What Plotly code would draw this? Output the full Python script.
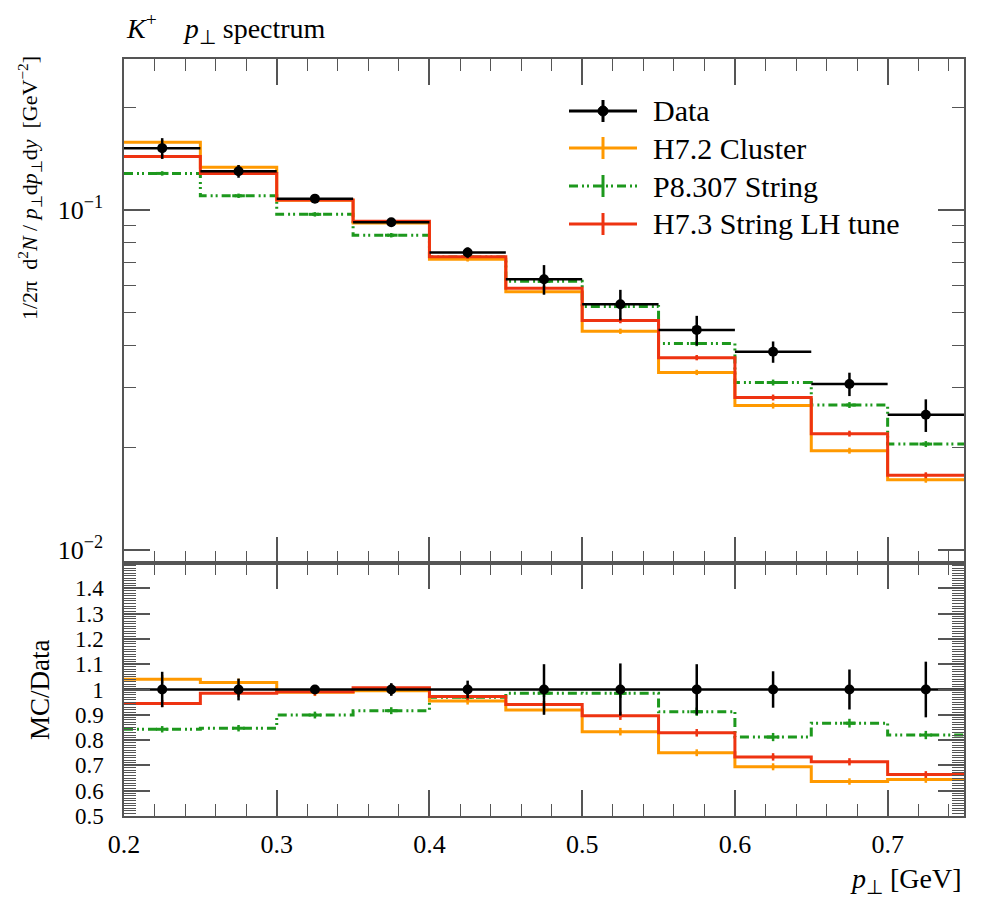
import plotly.graph_objects as go

# binning (p_perp in GeV)
bin_edges = [0.20, 0.25, 0.30, 0.35, 0.40, 0.45, 0.50, 0.55, 0.60, 0.65, 0.70, 0.75]

# measured spectrum and relative uncertainty
data_val = [0.152, 0.130, 0.108, 0.092, 0.075, 0.0626, 0.0528, 0.0444, 0.0383, 0.0308, 0.0250]
data_relerr = [0.070, 0.043, 0.010, 0.025, 0.035, 0.100, 0.103, 0.100, 0.072, 0.079, 0.110]

# MC predictions
h72_cluster = [0.1582, 0.1336, 0.1068, 0.0915, 0.0716, 0.0575, 0.0440, 0.0333, 0.0266, 0.0196, 0.0161]
p8307_string = [0.1281, 0.1101, 0.0971, 0.0843, 0.0727, 0.0617, 0.0520, 0.0405, 0.0311, 0.0267, 0.0205]
h73_lh_tune = [0.1436, 0.1281, 0.1070, 0.0926, 0.0729, 0.0589, 0.0473, 0.0368, 0.0281, 0.0220, 0.0166]
mc_relerr = [0.015, 0.015, 0.015, 0.015, 0.015, 0.015, 0.018, 0.018, 0.02, 0.02, 0.02]

ratio_ticks = [0.5, 0.6, 0.7, 0.8, 0.9, 1.0, 1.1, 1.2, 1.3, 1.4]
ratio_labels = ["0.5", "0.6", "0.7", "0.8", "0.9", "1", "1.1", "1.2", "1.3", "1.4"]

FONT = "Liberation Serif"
BLACK = "#000000"
ORANGE = "#ff9900"
GREEN = "#1d981d"
RED = "#ee3311"
FRAME = "#555555"
GREEN_DASH = "9px,4px,2px,3px,2px,4px"

centers = [(a + b) / 2 for a, b in zip(bin_edges[:-1], bin_edges[1:])]
halfw = [(b - a) / 2 for a, b in zip(bin_edges[:-1], bin_edges[1:])]


# page pixel -> paper coords (plot area sits at x 124..964, y 59..816 on the page)
def px(x):
    return (x - 124) / 840


def py(y):
    return (816 - y) / 757


fig = go.Figure()

series = [
    ("P8.307 String", p8307_string, GREEN, GREEN_DASH),
    ("H7.2 Cluster", h72_cluster, ORANGE, "solid"),
    ("H7.3 String LH tune", h73_lh_tune, RED, "solid"),
]

for name, vals, color, dash in series:
    ratio = [v / d for v, d in zip(vals, data_val)]
    for yvals, xa, ya in [(vals, "x", "y"), (ratio, "x2", "y2")]:
        fig.add_trace(go.Scatter(
            x=bin_edges, y=yvals + [yvals[-1]], mode="lines", line_shape="hv",
            line=dict(color=color, width=3, dash=dash), xaxis=xa, yaxis=ya,
            showlegend=False, hoverinfo="skip"))
        fig.add_trace(go.Scatter(
            x=centers, y=yvals, mode="markers",
            marker=dict(size=9 if color == GREEN else 2, color=color, symbol="line-ew",
                        line=dict(color=color, width=3)),
            error_y=dict(type="data", array=[v * e for v, e in zip(yvals, mc_relerr)],
                         width=0, thickness=2.5, color=color),
            xaxis=xa, yaxis=ya, showlegend=False, hoverinfo="skip"))

# data: main panel
fig.add_trace(go.Scatter(
    x=centers, y=data_val, mode="markers",
    marker=dict(size=10, color=BLACK),
    error_x=dict(type="data", array=halfw, width=0, thickness=2.5, color=BLACK),
    error_y=dict(type="data", array=[v * e for v, e in zip(data_val, data_relerr)],
                 width=0, thickness=2.5, color=BLACK),
    xaxis="x", yaxis="y", showlegend=False))

# data: ratio panel
ones = [d / d for d in data_val]
fig.add_trace(go.Scatter(
    x=bin_edges, y=ones + [ones[-1]], mode="lines", line_shape="hv",
    line=dict(color=BLACK, width=2.5), xaxis="x2", yaxis="y2", showlegend=False))
fig.add_trace(go.Scatter(
    x=centers, y=ones, mode="markers", marker=dict(size=10, color=BLACK),
    error_y=dict(type="data", array=data_relerr, width=0, thickness=2.5, color=BLACK),
    xaxis="x2", yaxis="y2", showlegend=False))

# hand-made legend (Rivet style)
legend_rows = [
    ("Data", BLACK, "solid", 111),
    ("H7.2 Cluster", ORANGE, "solid", 148),
    ("P8.307 String", GREEN, GREEN_DASH, 186),
    ("H7.3 String LH tune", RED, "solid", 224),
]
shapes = []
annotations = []
for label, color, dash, yy in legend_rows:
    shapes.append(dict(type="line", xref="paper", yref="paper", x0=px(569), x1=px(637),
                       y0=py(yy), y1=py(yy), line=dict(color=color, width=3, dash=dash)))
    shapes.append(dict(type="line", xref="paper", yref="paper", x0=px(603), x1=px(603),
                       y0=py(yy - 11), y1=py(yy + 11), line=dict(color=color, width=3)))
    if label == "Data":
        shapes.append(dict(type="circle", xref="paper", yref="paper",
                           x0=px(598), x1=px(608), y0=py(yy - 5), y1=py(yy + 5),
                           fillcolor=BLACK, line=dict(color=BLACK, width=1)))
    annotations.append(dict(text=label, xref="paper", yref="paper", x=px(651), y=py(yy),
                            xanchor="left", yanchor="middle", showarrow=False,
                            font=dict(family=FONT, size=30, color=BLACK)))

annotations += [
    dict(text="<i>K</i><sup>+</sup>    <i>p</i><sub>⊥</sub> spectrum", xref="paper", yref="paper",
         x=0, y=py(28), xanchor="left", yanchor="middle", showarrow=False,
         font=dict(family=FONT, size=28, color=BLACK)),
    dict(text="1/2π  d<sup>2</sup><i>N</i> / <i>p</i><sub>⊥</sub>d<i>p</i><sub>⊥</sub>d<i>y</i>  [GeV<sup>−2</sup>]",
         xref="paper", yref="paper", x=px(30), y=py(188), textangle=-90,
         xanchor="center", yanchor="middle", showarrow=False,
         font=dict(family=FONT, size=22, color=BLACK)),
    dict(text="MC/Data", xref="paper", yref="paper", x=px(40), y=py(690), textangle=-90,
         xanchor="center", yanchor="middle", showarrow=False,
         font=dict(family=FONT, size=27, color=BLACK)),
    dict(text="<i>p</i><sub>⊥</sub> [GeV]", xref="paper", yref="paper", x=1, y=py(880),
         xanchor="right", yanchor="middle", showarrow=False,
         font=dict(family=FONT, size=28, color=BLACK)),
]

split = py(563)
common_x = dict(range=[0.2, 0.75], tick0=0.2, dtick=0.1, ticks="inside", ticklen=26,
                tickwidth=1.5, tickcolor=FRAME, showline=True, linecolor=FRAME, linewidth=1.5,
                mirror="allticks", showgrid=False, zeroline=False,
                minor=dict(dtick=0.02, tick0=0.2, ticks="inside", ticklen=12, tickwidth=1.2,
                           tickcolor=FRAME, showgrid=False))

# the page body adds an 8px offset, so the figure is 8px smaller and margins shifted
fig.update_layout(
    width=988, height=892,
    margin=dict(l=116, r=32, t=51, b=84, autoexpand=False),
    paper_bgcolor="white", plot_bgcolor="white",
    font=dict(family=FONT, size=26, color=BLACK),
    showlegend=False,
    xaxis=dict(common_x, anchor="y", showticklabels=False),
    xaxis2=dict(common_x, anchor="y2", matches="x", showticklabels=True,
                ticklabelstandoff=4, tickfont=dict(family=FONT, size=26)),
    yaxis=dict(type="log", domain=[split, 1], range=[-2.038, -0.556],
               tickmode="array", tickvals=[0.01, 0.1],
               ticktext=["10<sup>−2</sup>", "10<sup>−1</sup>"],
               ticks="inside", ticklen=26, tickwidth=1.5, tickcolor=FRAME,
               showline=True, linecolor=FRAME, linewidth=1.5, mirror="allticks",
               showgrid=False, zeroline=False, ticklabelstandoff=14,
               tickfont=dict(family=FONT, size=26),
               minor=dict(tickmode="array",
                          tickvals=[0.02, 0.03, 0.04, 0.05, 0.06, 0.07, 0.08, 0.09, 0.2],
                          ticks="inside", ticklen=12, tickwidth=1.2, tickcolor=FRAME,
                          showgrid=False)),
    yaxis2=dict(domain=[0, split], range=[0.5, 1.5],
                tickmode="array", tickvals=ratio_ticks, ticktext=ratio_labels,
                ticks="inside", ticklen=26, tickwidth=1.5, tickcolor=FRAME,
                showline=True, linecolor=FRAME, linewidth=1.5, mirror="allticks",
                showgrid=False, zeroline=False, ticklabelstandoff=14,
                tickfont=dict(family=FONT, size=23),
                minor=dict(tickmode="linear", tick0=0.5, dtick=0.01, ticks="inside",
                           ticklen=12, tickwidth=1, tickcolor=FRAME, showgrid=False)),
    shapes=shapes,
    annotations=annotations,
)

fig.write_html("out.html")
